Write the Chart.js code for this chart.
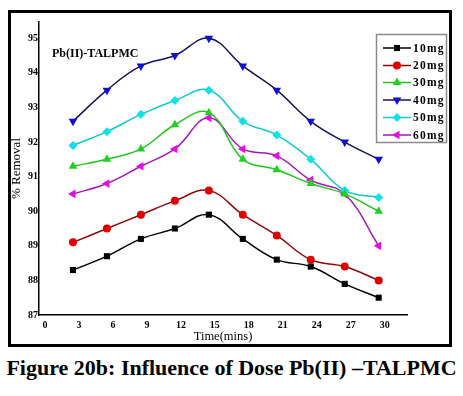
<!DOCTYPE html>
<html>
<head>
<meta charset="utf-8">
<script src="https://cdn.jsdelivr.net/npm/chart.js@4"></script>
<style>
  body { margin: 0; background: #fff; width: 463px; height: 396px; position: relative; overflow: hidden; }
  #frame { position: absolute; left: 8px; top: 10px; width: 444px; height: 337px; box-sizing: border-box; border: 3px solid #000; }
  #wrap { position: absolute; left: 0; top: 0; width: 463px; height: 346px; }
  #caption { position: absolute; left: 0; top: 355px; width: 463px; text-align: center; white-space: nowrap;
    font-family: "Liberation Serif", serif; font-weight: bold; font-size: 22px; color: #000; }
</style>
</head>
<body>
<div id="frame"></div>
<div id="wrap"><canvas id="doseChart" width="463" height="346"></canvas></div>
<div id="caption">Figure 20b: Influence of Dose Pb(II) –TALPMC</div>
<script>
// time in minutes
const times = [3, 6, 9, 12, 15, 18, 21, 24, 27, 30];
// % removal for each dose
const dose10 = [88.3, 88.7, 89.2, 89.5, 89.9, 89.2, 88.6, 88.4, 87.9, 87.5];
const dose20 = [89.1, 89.5, 89.9, 90.3, 90.6, 89.9, 89.3, 88.6, 88.4, 88.0];
const dose30 = [91.3, 91.5, 91.8, 92.5, 92.85, 91.5, 91.2, 90.8, 90.5, 90.0];
const dose40 = [92.6, 93.5, 94.2, 94.5, 95.0, 94.2, 93.5, 92.6, 92.0, 91.5];
const dose50 = [91.9, 92.3, 92.8, 93.2, 93.5, 92.6, 92.2, 91.5, 90.6, 90.4];
const dose60 = [90.5, 90.8, 91.3, 91.8, 92.7, 91.8, 91.6, 90.9, 90.5, 89.0];
const doseLabels = ['10mg', '20mg', '30mg', '40mg', '50mg', '60mg'];

const serif = '"Liberation Serif", "Times New Roman", serif';

function pts(vals) {
    return vals.map((v, i) => ({x: times[i], y: v}));
}

function series(label, vals, line, marker, style, rot, rad) {
    return {
        label: label,
        data: pts(vals),
        borderColor: line,
        borderWidth: 1.5,
        backgroundColor: marker,
        pointBackgroundColor: marker,
        pointBorderColor: marker,
        pointBorderWidth: 0,
        pointStyle: style,
        pointRotation: rot,
        pointRadius: rad,
        tension: 0.4,
        fill: false
    };
}

const datasets = [
    series(doseLabels[0], dose10, '#000000', '#000000', 'rect', 0, 4.3),
    series(doseLabels[1], dose20, '#8c0a0a', '#e00000', 'circle', 0, 4),
    series(doseLabels[2], dose30, '#22c422', '#22d022', 'triangle', 0, 5),
    series(doseLabels[3], dose40, '#141458', '#1010d0', 'triangle', 180, 5),
    series(doseLabels[4], dose50, '#10c8d0', '#10e0e8', 'rectRot', 0, 4.5),
    series(doseLabels[5], dose60, '#a01ab4', '#e010e0', 'triangle', 270, 5)
];

// inner title + boxed legend drawn inside the plot
const insidePlugin = {
    id: 'inside',
    afterDraw(chart) {
        const ctx = chart.ctx;
        ctx.save();
        ctx.fillStyle = '#000';
        ctx.font = 'bold 12px ' + serif;
        ctx.textBaseline = 'middle';
        ctx.textAlign = 'left';
        ctx.fillText('Pb(II)-TALPMC', 52, 54);

        // legend box
        ctx.strokeStyle = '#8a8a8a';
        ctx.lineWidth = 1.5;
        ctx.strokeRect(376.5, 34.5, 70, 108);
        const rows = [48, 65.5, 82.5, 100, 117.5, 135];
        chart.data.datasets.forEach((ds, i) => {
            const y = rows[i];
            ctx.strokeStyle = ds.borderColor;
            ctx.lineWidth = 1.5;
            ctx.beginPath();
            ctx.moveTo(383, y);
            ctx.lineTo(411, y);
            ctx.stroke();
            ctx.fillStyle = ds.pointBackgroundColor;
            ctx.strokeStyle = ds.pointBackgroundColor;
            Chart.helpers.drawPoint(ctx, {
                pointStyle: ds.pointStyle,
                rotation: ds.pointRotation,
                radius: ds.pointRadius,
                borderWidth: 0
            }, 397, y);
            ctx.fillStyle = '#000';
            ctx.font = 'bold 11.5px ' + serif;
            ctx.letterSpacing = '1.2px';
            ctx.fillText(ds.label, 413, y + 1);
            ctx.letterSpacing = '0px';
        });
        ctx.restore();
    }
};

const ctx = document.getElementById('doseChart').getContext('2d');
new Chart(ctx, {
    type: 'line',
    data: { datasets: datasets },
    plugins: [insidePlugin],
    options: {
        responsive: false,
        animation: false,
        layout: { padding: { left: 0, top: 22, right: 56, bottom: 0 } },
        plugins: {
            legend: { display: false },
            tooltip: { enabled: false }
        },
        scales: {
            x: {
                type: 'linear',
                min: 0,
                max: 32.5,
                afterFit: (s) => { s.height = 31; },
                grid: { display: false, drawTicks: false },
                border: { display: true, color: '#000', width: 1.5 },
                ticks: {
                    stepSize: 3,
                    includeBounds: false,
                    labelOffset: 6,
                    padding: 4,
                    maxRotation: 0,
                    color: '#000',
                    font: { family: serif, size: 10, weight: 'bold' }
                },
                title: {
                    display: true,
                    text: 'Time(mins)',
                    color: '#000',
                    padding: { top: 0, bottom: 2 },
                    font: { family: serif, size: 12.5 }
                }
            },
            y: {
                min: 87,
                max: 95.47,
                afterFit: (s) => { s.width = 39; },
                grid: { display: false, drawTicks: false },
                border: { display: true, color: '#000', width: 1.5 },
                ticks: {
                    stepSize: 1,
                    includeBounds: false,
                    padding: 1,
                    color: '#000',
                    font: { family: serif, size: 10, weight: 'bold' }
                },
                title: {
                    display: true,
                    text: '% Removal',
                    color: '#000',
                    padding: { top: 9, bottom: 0 },
                    font: { family: serif, size: 13 }
                }
            }
        }
    }
});
</script>
</body>
</html>
